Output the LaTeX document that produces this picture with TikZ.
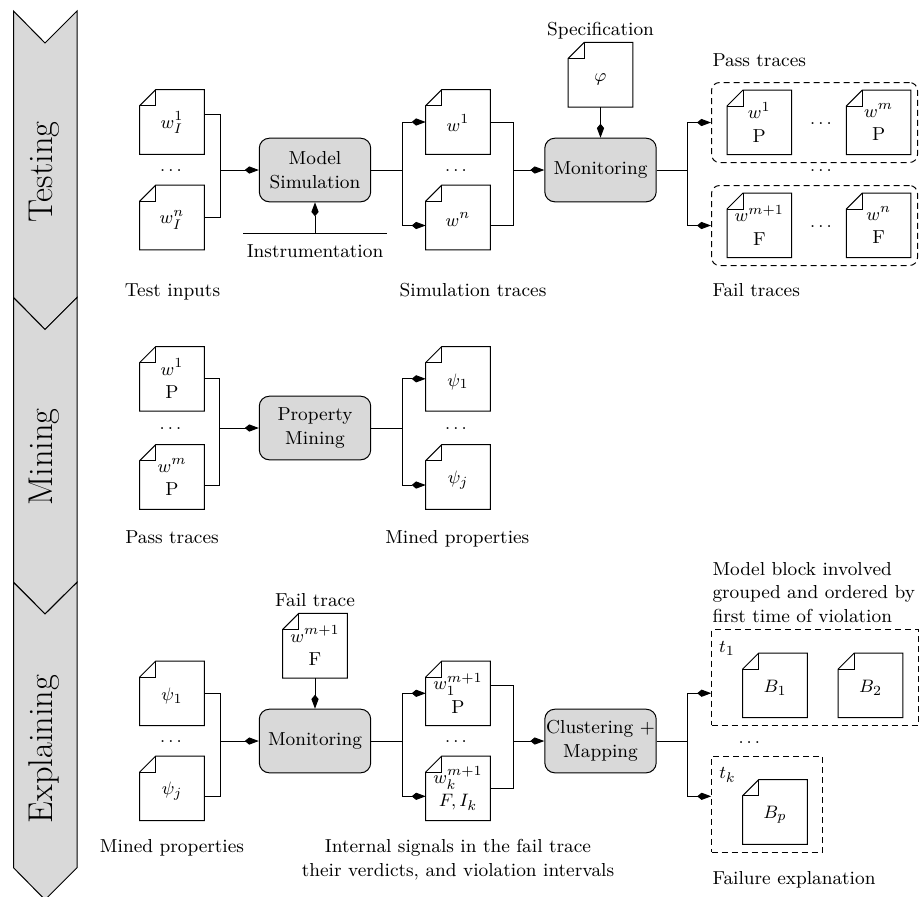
\documentclass[tikz,border=0pt]{standalone}
\usetikzlibrary{arrows.meta}
\makeatletter
\tikzset{
    document/.style={
        append after command={\pgfextra{
            \draw ([yshift=-\document@fold]\tikzlastnode.north west) -- ([xshift=\document@fold]\tikzlastnode.north west) -- (\tikzlastnode.north east) -- (\tikzlastnode.south east) -- (\tikzlastnode.south west) -- cycle;
            \draw ([xshift=\document@fold]\tikzlastnode.north west) -- ++(0,-\document@fold) -- ++(-\document@fold,0);
        }},
        execute at begin node={\rule{0pt}{\document@strut}},
        minimum width=2*\document@half,
        minimum height=2*\document@half,
        inner sep=0pt,
        align=center,
    },
    document half/.store in=\document@half,
    document fold/.store in=\document@fold,
    document strut/.store in=\document@strut,
    document half=15.9pt,
    document fold=8pt,
    document strut=9pt,
    block/.style={draw,fill=gray!30,rounded corners=5pt,minimum width=55.7pt,minimum height=31.8pt,inner sep=0pt,align=center},
    band/.style={draw,fill=gray!30},
    bandname/.style={rotate=90,anchor=base,inner sep=0pt,font=\fontsize{17.2}{20}\selectfont},
    caption/.style={inner sep=0pt,anchor=base},
    wire/.style={line width=0.5pt},
    feed/.style={line width=0.5pt,-{Kite[length=7pt,width=3.6pt,inset=2.2pt]}},
    group/.style={draw,dash pattern=on 3pt off 2pt,line width=0.5pt,minimum width=#1,minimum height=40pt,inner sep=0pt},
}
\makeatother

\begin{document}
\begin{tikzpicture}[x=0.5pt,y=-0.5pt,line width=0.5pt,every node/.style={font=\fontsize{9.4}{11.8}\selectfont}]
  \useasboundingbox (0,0) rectangle (924,896);

  % Phases
  \draw[band] (13.5,11) -- (45,43) -- (77,11) -- (77,297.5) -- (45,329.5) -- (13.5,297.5) -- cycle;
  \draw[band] (13.5,297.5) -- (45,329.5) -- (77,297.5) -- (77,582.3) -- (45,614) -- (13.5,582.3) -- cycle;
  \draw[band] (13.5,582.3) -- (45,614) -- (77,582.3) -- (77,867.7) -- (45,899.7) -- (13.5,867.7) -- cycle;
  \node[bandname] (phaseTesting) at (52,172) {Testing};
  \node[bandname] (phaseMining) at (52,457) {Mining};
  \node[bandname] (phaseExplaining) at (52,749) {Explaining};

  % Testing
  \node[document] (inputA) at (172,122) {$w_I^1$};
  \node[document] (inputB) at (172,217.5) {$w_I^n$};
  \node (inputDots) at (171,171) {$\dots$};
  \node[block] (modelSim) at (315,170) {Model\\Simulation};
  \node[document] (simA) at (458,122) {$w^1$};
  \node[document] (simB) at (458,217.5) {$w^n$};
  \node (simDots) at (456,171) {$\dots$};
  \node[document] (specDoc) at (600.5,74.7) {$\varphi$};
  \node[block] (monTest) at (600.5,170) {Monitoring};

  \node[group=103pt,rounded corners=4pt] (passGroup) at (814.5,122.5) {};
  \node[group=103pt,rounded corners=4pt] (failGroup) at (814.5,225.5) {};
  \node[document,document strut=12pt] (passA) at (759.3,122.3) {$w^1$\\P};
  \node[document,document strut=12pt] (passB) at (878.6,122.3) {$w^m$\\P};
  \node[document,document strut=12pt] (failA) at (759.3,225.3) {$w^{m+1}$\\F};
  \node[document,document strut=12pt] (failB) at (878.6,225.3) {$w^n$\\F};
  \node (passDots) at (821,124) {$\dots$};
  \node (groupDots) at (821,171) {$\dots$};
  \node (failDots) at (821,227) {$\dots$};

  \coordinate (instrA) at (243.3,233.3);
  \coordinate (instrB) at (386.7,233.3);
  \coordinate (instrC) at (315,233.3);
  \coordinate (joinInput) at (220,170);
  \coordinate (joinSimOut) at (402.3,170);
  \coordinate (joinSimIn) at (513.3,170);
  \coordinate (joinVerdict) at (687.4,170);

  % Testing arrows
  \draw[wire] ([yshift=4pt]inputA.east) -| (joinInput);
  \draw[wire] (inputB.east) -| (joinInput);
  \draw[feed] (joinInput) -- (modelSim);
  \draw[wire] (instrA) -- (instrB);
  \draw[feed] (instrC) -- (modelSim);
  \draw[wire] (modelSim) -- (joinSimOut);
  \draw[feed] (joinSimOut) |- (simA.west);
  \draw[feed] (joinSimOut) |- ([yshift=-4pt]simB.west);
  \draw[wire] (simA.east) -| (joinSimIn);
  \draw[wire] ([yshift=-4pt]simB.east) -| (joinSimIn);
  \draw[feed] (joinSimIn) -- (monTest);
  \draw[feed] (specDoc) -- (monTest);
  \draw[wire] (monTest) -- (joinVerdict);
  \draw[feed] (joinVerdict) |- (passGroup.west);
  \draw[feed] (joinVerdict) |- (failGroup.west);

  % Testing labels
  \node[caption] (capInput) at (172.5,296.7) {Test inputs};
  \node[caption] (capInstr) at (315,257) {Instrumentation};
  \node[caption] (capSim) at (473,296.7) {Simulation traces};
  \node[caption] (capSpec) at (600.5,35) {Specification};
  \node[caption,anchor=base west] (capPass) at (712,66.7) {Pass traces};
  \node[caption,anchor=base west] (capFail) at (712,296.7) {Fail traces};

  % Mining
  \node[document,document strut=12pt] (minePassA) at (172,378.8) {$w^1$\\P};
  \node[document,document strut=12pt] (minePassB) at (172,477) {$w^m$\\P};
  \node (minePassDots) at (170.5,429) {$\dots$};
  \node[block] (propMining) at (315,428) {Property\\Mining};
  \node[document] (minePsiA) at (458,378.8) {$\psi_1$};
  \node[document] (minePsiB) at (458,477) {$\psi_j$};
  \node (minePsiDots) at (456,429) {$\dots$};
  \coordinate (joinMineIn) at (219.7,428);
  \coordinate (joinMineOut) at (402.2,428);

  \draw[wire] (minePassA.east) -| (joinMineIn);
  \draw[wire] ([yshift=-4pt]minePassB.east) -| (joinMineIn);
  \draw[feed] (joinMineIn) -- (propMining);
  \draw[wire] (propMining) -- (joinMineOut);
  \draw[feed] (joinMineOut) |- (minePsiA.west);
  \draw[feed] (joinMineOut) |- ([yshift=-4pt]minePsiB.west);

  \node[caption] (capMinePass) at (172,543) {Pass traces};
  \node[caption] (capMined) at (457.3,543) {Mined properties};

  % Explaining
  \node[document] (explPsiA) at (172,693.3) {$\psi_1$};
  \node[document] (explPsiB) at (172,788.3) {$\psi_j$};
  \node (explPsiDots) at (171,742) {$\dots$};
  \node[document,document strut=12pt] (failDoc) at (315,645.7) {$w^{m+1}$\\F};
  \node[block] (monExpl) at (315,741) {Monitoring};
  \node[document,document strut=12pt] (signalA) at (458,693.3) {$w_1^{m+1}$\\P};
  \node[document,document strut=12pt] (signalB) at (458,788.3) {$w_k^{m+1}$\\$F,I_k$};
  \node (signalDots) at (456,742) {$\dots$};
  \node[block] (clusterMap) at (600.5,741) {Clustering +\\Mapping};

  \node[group=103.3pt,minimum height=47.8pt] (blockGroupA) at (815,677.2) {};
  \node[group=55.5pt,minimum height=47.7pt] (blockGroupB) at (767.2,804.3) {};
  \node[document] (blockA) at (775,685.3) {$B_1$};
  \node[document] (blockB) at (870.5,685.3) {$B_2$};
  \node[document] (blockP) at (775,812) {$B_p$};
  \node (timeA) at (727,648.3) {$t_1$};
  \node (timeK) at (727.5,775) {$t_k$};
  \node (blockDots) at (749.3,743) {$\dots$};

  \coordinate (joinPsi) at (220,741);
  \coordinate (joinMonOut) at (402,741);
  \coordinate (joinSignal) at (513.3,741);
  \coordinate (joinCluster) at (687.7,741);

  \draw[wire] (explPsiA.east) -| (joinPsi);
  \draw[wire] ([yshift=-4pt]explPsiB.east) -| (joinPsi);
  \draw[feed] (joinPsi) -- (monExpl);
  \draw[feed] (failDoc) -- (monExpl);
  \draw[wire] (monExpl) -- (joinMonOut);
  \draw[feed] (joinMonOut) |- (signalA.west);
  \draw[feed] (joinMonOut) |- ([yshift=-4pt]signalB.west);
  \draw[wire] ([yshift=4pt]signalA.east) -| (joinSignal);
  \draw[wire] (signalB.east) -| (joinSignal);
  \draw[feed] (joinSignal) -- (clusterMap);
  \draw[wire] (clusterMap) -- (joinCluster);
  \draw[feed] (joinCluster) |- ([yshift=-8pt]blockGroupA.west);
  \draw[feed] (joinCluster) |- ([yshift=4pt]blockGroupB.west);

  \node[caption] (capFailDoc) at (315,606) {Fail trace};
  \node[caption] (capExplPsi) at (172,852.7) {Mined properties};
  \node[caption,align=center,anchor=north] (capSignals) at (458,839) {Internal signals in the fail trace\\their verdicts, and violation intervals};
  \node[caption,align=left,anchor=north west] (capBlocks) at (712,561.5) {Model block involved\\grouped and ordered by\\first time of violation};
  \node[caption,anchor=base west] (capExplain) at (712,884) {Failure explanation};

\end{tikzpicture}
\end{document}
